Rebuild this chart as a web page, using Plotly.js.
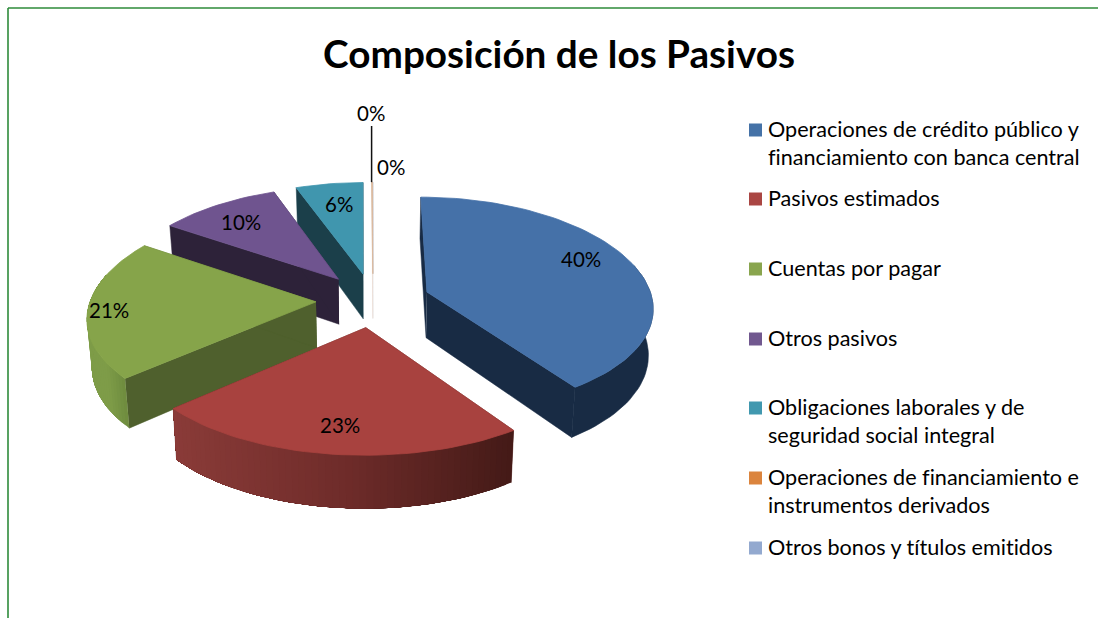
<!DOCTYPE html>
<html>
<head>
<meta charset="utf-8">
<script src="https://cdn.plot.ly/plotly-3.0.1.min.js"></script>
<style>
html,body{margin:0;padding:0;background:#fff}#chart{width:1098px;height:618px}
text{font-variant-ligatures:none;font-feature-settings:"liga" 0}
</style>
</head>
<body>
<div id="chart"></div>
<script>
// ---- data ----
const categories = [
  "Operaciones de crédito público y<br>financiamiento con banca central",
  "Pasivos estimados",
  "Cuentas por pagar",
  "Otros pasivos",
  "Obligaciones laborales y de<br>seguridad social integral",
  "Operaciones de financiamiento e<br>instrumentos derivados",
  "Otros bonos y títulos emitidos"
];
const values = [40.4, 23.1, 20.85, 10.0, 5.55, 0.08, 0.02];
const topColors = ["#4571a8", "#a8423f", "#86a44a", "#6f548f", "#4096ae", "#d9b79c", "#c9d6e6"];
const legendColors = ["#4572a7", "#aa4643", "#89a54e", "#71588f", "#4198af", "#db843d", "#93a9cf"];
const faceColors = ["#182b44", "#4a1a17", "#4f602d", "#2d2239", "#1b3f4a", "#eadbd0", "#e6ecf3"];
const wallStops = [
  ["#182b44"],
  ["#8a3b38", "#6f2c2a", "#441a17"],
  ["#7e9c48", "#6e8b3e"],
  ["#2d2239"],
  ["#1b3f4a"],
  ["#eadbd0"],
  ["#e6ecf3"]
];
const labelX = [581, 340, 109, 241, 339, 391, 371];
const labelY = [259, 425, 310, 222, 204, 167, 113];
const legendKeyX = 755.5;
const legendY = [130, 199, 269, 339, 408, 478, 548];

// ---- projection of the exploded pie ----
const P = {cx: 373, cy: 300, rx: 225.5, ry: 107, kx: 0.13, ky: 0.11, e: 0.253, d: 46, shrink: 0.983};
const total = values.reduce((a, b) => a + b, 0);
const rad = d => d * Math.PI / 180;
function project(U, V, bottom) {
  const sx = 1 / (1 - P.kx * V), sy = 1 / (1 - P.ky * V);
  const xs = P.rx * U * sx * (bottom ? P.shrink : 1);
  return [P.cx + xs, P.cy + P.ry * V * sy + (bottom ? P.d * sy : 0)];
}
function hex(c) { return [1, 3, 5].map(i => parseInt(c.substr(i, 2), 16)); }
function mix(stops, f) {
  if (stops.length === 1) return stops[0];
  const p = Math.min(0.9999, Math.max(0, f)) * (stops.length - 1);
  const i = Math.floor(p), a = hex(stops[i]), b = hex(stops[i + 1]);
  return "rgb(" + a.map((v, j) => Math.round(v + (b[j] - v) * (p - i))).join(",") + ")";
}
function poly(pts, color, w) {
  return {
    type: "scatter", mode: "lines", x: pts.map(p => p[0]), y: pts.map(p => p[1]),
    fill: "toself", fillcolor: color, line: {color: color, width: w},
    showlegend: false, hoverinfo: "skip"
  };
}

const slices = [];
let acc = 0;
values.forEach((v, i) => {
  const a0 = acc / total * 360, a1 = (acc + v) / total * 360;
  acc += v;
  const mid = rad((a0 + a1) / 2);
  const apex = [P.e * Math.sin(mid), -P.e * Math.cos(mid)];
  const at = (deg, r) => [apex[0] + r * Math.sin(rad(deg)), apex[1] - r * Math.cos(rad(deg))];
  slices.push({i, a0, a1, apex, at});
});

const traces = [];
// painter's order: back slices first, the front slice last
[6, 5, 4, 3, 2, 0, 1].forEach(i => {
  const S = slices[i];
  const top = (w, b) => project(w[0], w[1], b);
  const c0 = S.at(S.a0, 1), c1 = S.at(S.a1, 1);
  // radial faces
  [c0, c1].forEach(c => traces.push(poly(
    [top(S.apex), top(c), top(c, true), top(S.apex, true)], faceColors[i], 0.5)));
  // outer wall: each band reaches to the end of the wall and the next one paints over it, so no seams
  const w0 = Math.max(S.a0, 75), w1 = Math.min(S.a1, 285);
  if (w1 > w0) {
    const n = wallStops[i].length === 1 ? 1 : Math.max(1, Math.ceil((w1 - w0) / 1.5));
    const xs0 = project(...S.at(w0, 1))[0], xs1 = project(...S.at(w1, 1))[0];
    const left = Math.min(xs0, xs1), right = Math.max(xs0, xs1);
    for (let k = 0; k < n; k++) {
      const a = w0 + (w1 - w0) * k / n;
      const arc = [];
      const m = Math.max(2, Math.ceil((w1 - a) / 2));
      for (let j = 0; j <= m; j++) arc.push(S.at(a + (w1 - a) * j / m, 1));
      const xm = project(...S.at(a + (w1 - w0) / n / 2, 1))[0];
      traces.push(poly(arc.map(p => top(p)).concat(arc.slice().reverse().map(p => top(p, true))),
        mix(wallStops[i], (xm - left) / (right - left || 1)), n === 1 ? 0.6 : 0));
    }
  }
  // top surface
  const pts = [top(S.apex)];
  const n = Math.max(2, Math.ceil((S.a1 - S.a0) / 2));
  for (let k = 0; k <= n; k++) pts.push(top(S.at(S.a0 + (S.a1 - S.a0) * k / n, 1)));
  pts.push(top(S.apex));
  traces.push(poly(pts, topColors[i], 0.8));
});

// leader line of the small slices
const leadTop = project(...slices[5].at(slices[5].a0, 1));
traces.push({type: "scatter", mode: "lines", x: [leadTop[0], leadTop[0]], y: [126, leadTop[1]],
  line: {color: "#111111", width: 1.5}, showlegend: false, hoverinfo: "skip"});

// legend keys
categories.forEach((name, i) => traces.push({
  type: "scatter", mode: "markers", x: [legendKeyX], y: [legendY[i]], name: name, showlegend: false, hoverinfo: "skip",
  marker: {symbol: "square", size: 13, color: legendColors[i]}
}));

const labelAnn = values.map((v, i) => ({
  x: labelX[i], y: labelY[i], xref: "x", yref: "y", showarrow: false,
  text: Math.round(v / total * 100) + "%", font: {family: "Lato, sans-serif", size: 20.5, color: "#000"},
  xanchor: "center", yanchor: "middle"
}));
const legendAnn = categories.map((name, i) => ({
  x: 768, y: legendY[i] - 14.5, xref: "x", yref: "y", showarrow: false, text: name, align: "left",
  font: {family: "Lato, sans-serif", size: 21.6, color: "#000"}, xanchor: "left", yanchor: "top",
  borderpad: 0, borderwidth: 0
}));

const layout = {
  width: 1098, height: 618, margin: {l: 0, r: 0, t: 0, b: 0},
  paper_bgcolor: "#fff", plot_bgcolor: "#fff",
  title: {text: "<b>Composición de los Pasivos</b>", x: 559 / 1098, xanchor: "center", y: 1 - 54 / 618, yanchor: "middle",
    font: {family: "Lato, sans-serif", size: 38.7, color: "#000"}},
  xaxis: {range: [0, 1098], visible: false, fixedrange: true},
  yaxis: {range: [618, 0], visible: false, fixedrange: true},
  showlegend: false,
  annotations: labelAnn.concat(legendAnn),
  shapes: [
    {type: "line", xref: "x", yref: "y", x0: 8, x1: 1098, y0: 8, y1: 8, line: {color: "#2e8b3a", width: 1.6}},
    {type: "line", xref: "x", yref: "y", x0: 8, x1: 8, y0: 8, y1: 618, line: {color: "#2e8b3a", width: 1.6}}
  ]
};
Plotly.newPlot("chart", traces, layout, {displayModeBar: false, responsive: false});
</script>
</body>
</html>
